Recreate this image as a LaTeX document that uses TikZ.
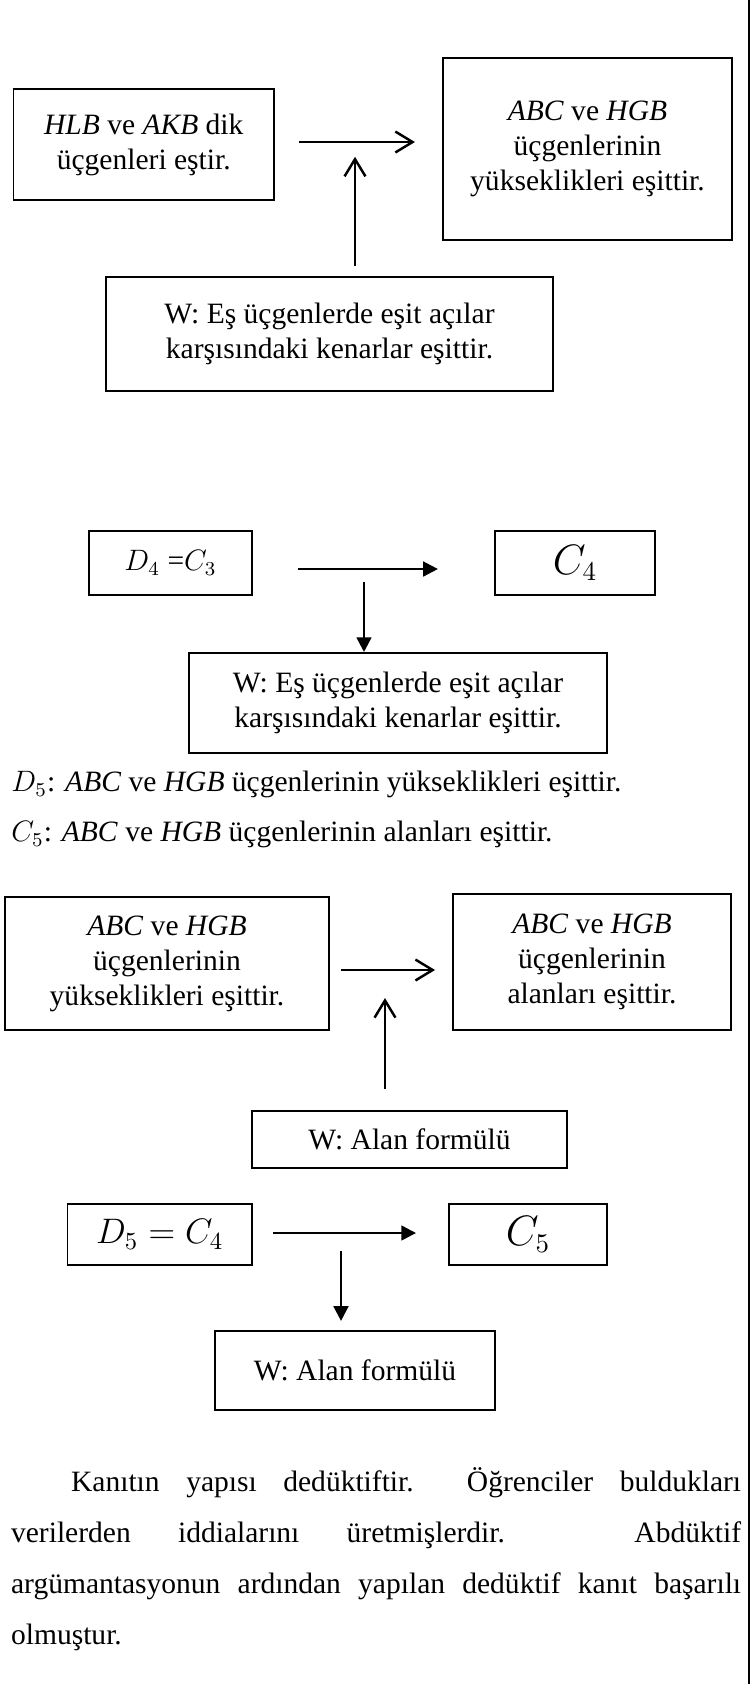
\documentclass[tikz,border=0pt]{standalone}
\usepackage{fontspec}
\setmainfont{Liberation Serif}
\usetikzlibrary{arrows.meta}
\newcommand\pu{0.4064pt}
\tikzset{
  box/.style={draw, line width=0.8pt, align=center, inner sep=0pt,
    font=\fontsize{12}{14.2}\selectfont},
  txt/.style={anchor=base west, inner sep=0pt, font=\fontsize{12}{14.2}\selectfont},
  opn/.style={-{Straight Barb[length=7pt,width=8.5pt]}, line width=1pt},
  fil/.style={-{Triangle[length=6pt,width=6pt]}, line width=1pt},
}
\begin{document}
\begin{tikzpicture}[x=\pu, y=-\pu]
      \useasboundingbox (0,0) rectangle (756,1684);
      \draw[line width=0.6pt] (749,0) -- (749,1684);
      \draw
        (143.75,144.5) node[box, minimum width=260.5*\pu, minimum height=111*\pu] (hlb)
          {\textit{HLB} ve \textit{AKB} dik\\üçgenleri eştir.}
        (587.5,149) node[box, minimum width=289*\pu, minimum height=182*\pu] (yuk1)
          {\textit{ABC} ve \textit{HGB}\\üçgenlerinin\\yükseklikleri eşittir.}
        (329.5,334) node[box, minimum width=447*\pu, minimum height=114*\pu] (w1)
          {W: Eş üçgenlerde eşit açılar\\karşısındaki kenarlar eşittir.}
        (170.5,563) node[box, minimum width=163*\pu, minimum height=64*\pu] (d4)
          {$D_4$ =$C_3$}
        (575,563) node[box, minimum width=160*\pu, minimum height=64*\pu] (c4)
          {\fontsize{16}{18}\selectfont$C_4$}
        (398,703) node[box, minimum width=418*\pu, minimum height=100*\pu] (w2)
          {W: Eş üçgenlerde eşit açılar\\karşısındaki kenarlar eşittir.}
        (11,791.6) node[txt] (d5txt)
          {$D_5$: \textit{ABC} ve \textit{HGB} üçgenlerinin yükseklikleri eşittir.}
        (11,841.6) node[txt] (c5txt)
          {$C_5$: \textit{ABC} ve \textit{HGB} üçgenlerinin alanları eşittir.}
        (167,963.5) node[box, minimum width=324*\pu, minimum height=133*\pu] (yuk2)
          {\textit{ABC} ve \textit{HGB}\\üçgenlerinin\\yükseklikleri eşittir.}
        (592,962) node[box, minimum width=278*\pu, minimum height=136*\pu] (alan)
          {\textit{ABC} ve \textit{HGB}\\üçgenlerinin\\alanları eşittir.}
        (409.5,1139.5) node[box, minimum width=315*\pu, minimum height=57*\pu] (w3)
          {W: Alan formülü}
        (159.75,1234.5) node[box, minimum width=184.5*\pu, minimum height=61*\pu] (d5)
          {\fontsize{14}{16}\selectfont$D_5=C_4$}
        (528,1234.5) node[box, minimum width=158*\pu, minimum height=61*\pu] (c5)
          {\fontsize{16}{18}\selectfont$C_5$}
        (355,1370.5) node[box, minimum width=280*\pu, minimum height=79*\pu] (w4)
          {W: Alan formülü}
        (10.6,1491.6) node[txt, text width=730*\pu, align=justify,
          font=\fontsize{12}{20.7}\selectfont] (prg)
          {\hspace*{24.4pt}Kanıtın yapısı dedüktiftir.\ \ Öğrenciler buldukları\linebreak
          verilerden iddialarını üretmişlerdir. Abdüktif\linebreak
          argümantasyonun ardından yapılan dedüktif kanıt başarılı\linebreak
          olmuştur.};
      \coordinate (m1) at (355,142);
      \coordinate (m2) at (364,569);
      \coordinate (m3) at (385,970);
      \coordinate (m4) at (341,1233);
      \begin{scope}[opn]
        \draw[shorten <=9.75pt, shorten >=11pt] (hlb.east |- m1) to (yuk1.west |- m1);
        \draw[shorten <=4pt, shorten >=6pt] (w1.north -| m1) to (m1);
        \draw[shorten <=4.5pt, shorten >=6.9pt] (yuk2.east |- m3) to (alan.west |- m3);
        \draw[shorten <=8.5pt, shorten >=11.4pt] (w3.north -| m3) to (m3);
      \end{scope}
      \begin{scope}[fil]
        \draw[shorten <=18.3pt, shorten >=22.8pt] (d4.east |- m2) to (c4.west |- m2);
        \draw[shorten <=5.3pt] (m2) to (w2.north -| m2);
        \draw[shorten <=8.1pt, shorten >=13pt] (d5.east |- m4) to (c5.west |- m4);
        \draw[shorten <=7.3pt, shorten >=3.7pt] (m4) to (w4.north -| m4);
      \end{scope}
    \end{tikzpicture}
\end{document}
